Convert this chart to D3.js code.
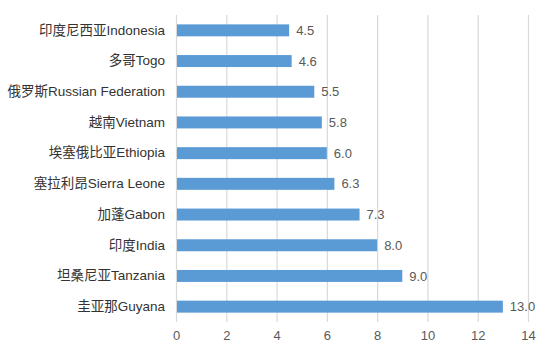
<!DOCTYPE html>
<html>
<head>
<meta charset="utf-8">
<script src="https://cdn.jsdelivr.net/npm/d3@7"></script>
<style>
  body { margin: 0; background: #fff; }
  text { font-family: "Liberation Sans", Arial, "Noto Sans CJK SC", sans-serif; }
</style>
</head>
<body>
<svg id="chart" width="551" height="353"></svg>
<script>
const countries = ["印度尼西亚Indonesia", "多哥Togo", "俄罗斯Russian Federation", "越南Vietnam",
  "埃塞俄比亚Ethiopia", "塞拉利昂Sierra Leone", "加蓬Gabon", "印度India", "坦桑尼亚Tanzania", "圭亚那Guyana"];
const values = [4.5, 4.6, 5.5, 5.8, 6.0, 6.3, 7.3, 8.0, 9.0, 13.0];
const xTicks = [0, 2, 4, 6, 8, 10, 12, 14];

const data = countries.map((c, i) => ({ name: c, value: values[i] }));

const svg = d3.select("#chart");

const x = d3.scaleLinear().domain([0, 14]).range([176, 528]);
const y = d3.scaleBand()
  .domain(countries)
  .range([15, 322])
  .paddingInner(0.61)
  .paddingOuter(0.305);

// gridlines
svg.append("g")
  .selectAll("line")
  .data(xTicks)
  .join("line")
  .attr("x1", d => x(d) + 0.5)
  .attr("x2", d => x(d) + 0.5)
  .attr("y1", 15)
  .attr("y2", 322)
  .attr("stroke", "#d9d9d9")
  .attr("stroke-width", 1.2);

// bars
svg.append("g")
  .selectAll("rect")
  .data(data)
  .join("rect")
  .attr("x", x(0) + 1)
  .attr("y", d => y(d.name))
  .attr("width", d => x(d.value) - x(0) - 1)
  .attr("height", y.bandwidth())
  .attr("fill", "#5b9bd5");

// value labels
svg.append("g")
  .selectAll("text")
  .data(data)
  .join("text")
  .attr("x", d => x(d.value) + 7)
  .attr("y", d => y(d.name) + y.bandwidth() / 2)
  .attr("dy", "0.35em")
  .attr("font-size", 13)
  .attr("fill", "#595959")
  .text(d => d3.format(".1f")(d.value));

// category axis
const yAxis = svg.append("g")
  .attr("transform", "translate(165,0)")
  .call(d3.axisLeft(y).tickSize(0).tickPadding(0));
yAxis.select(".domain").remove();
yAxis.selectAll("text")
  .attr("font-size", 13.5)
  .attr("fill", "#333333")
  .attr("font-family", null);

// value axis
const xAxis = svg.append("g")
  .attr("transform", "translate(0,322)")
  .call(d3.axisBottom(x).tickValues(xTicks).tickSize(0).tickPadding(9));
xAxis.select(".domain").remove();
xAxis.selectAll("text")
  .attr("font-size", 13)
  .attr("fill", "#595959")
  .attr("font-family", null);
</script>
</body>
</html>
